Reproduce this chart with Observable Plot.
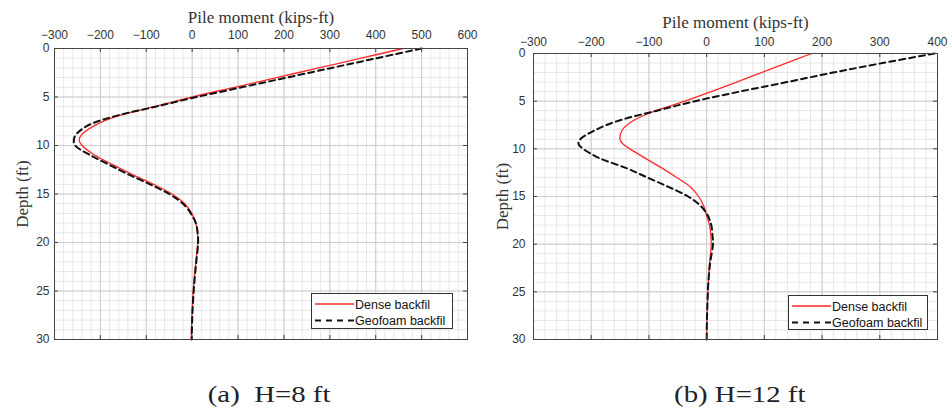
<!DOCTYPE html>
<html>
<head>
<meta charset="utf-8">
<script src="https://cdn.jsdelivr.net/npm/d3@7"></script>
<script src="https://cdn.jsdelivr.net/npm/@observablehq/plot@0.6"></script>
<style>
  html, body { margin: 0; padding: 0; background: #fff; }
  #root { position: relative; width: 952px; height: 408px; overflow: hidden; background: #fff; }
  .panel { position: absolute; top: 0; }
  .panel svg { overflow: visible; }
  .legend { position: absolute; border: 1px solid #333; background: #fff; box-sizing: border-box; }
  .legend svg { position: absolute; left: 0; top: 0; }
  .caption { position: absolute; text-align: center; font-family: "Liberation Serif", "Times New Roman", serif; font-size: 24px; line-height: 1; color: #222; }
  .caption span { display: inline-block; transform: scaleX(1.2); transform-origin: center; white-space: pre; }
</style>
</head>
<body>
<div id="root"></div>
<script>
// ---------- data ----------
const depthA    = [0, 1, 2, 3, 4, 5, 6, 7, 8, 9, 9.5, 10, 11, 12, 13, 14, 15, 16, 17, 18, 19, 20, 22, 24, 26, 28, 30];
const denseA    = [460, 368, 276, 184, 92, 0, -82, -165, -215, -243, -246, -240, -212, -172, -130, -84, -44, -16, -1, 8, 11.5, 12, 8, 4, 1, -1, -2];
const geofoamA  = [500, 402, 304, 206, 108, 10, -80, -170, -230, -255, -258, -255, -222, -180, -138, -92, -50, -20, -3, 8, 12, 13, 9, 5, 2, 0, -1];

const depthB    = [0, 1, 2, 3, 4, 5, 6, 7, 8, 9, 9.5, 10, 11, 12, 13, 14, 15, 16, 17, 18, 19, 20, 22, 24, 26, 28, 30];
const denseB    = [182, 138, 95, 52, 8, -38, -88, -126, -146, -150, -145, -133, -106, -78, -52, -28, -14, -5, 0, 5, 7, 8, 5, 3, 1.5, 0.5, 0];
const geofoamB  = [395, 305, 219, 139, 57, -20, -86, -150, -192, -219, -222, -214, -185, -140, -103, -66, -32, -10, 2, 8, 10, 11, 6, 3, 1.5, 0.5, 0];

const xTicksA = [-300, -200, -100, 0, 100, 200, 300, 400, 500, 600];
const xTicksB = [-300, -200, -100, 0, 100, 200, 300, 400];
const yTicks  = [0, 5, 10, 15, 20, 25, 30];
const xLabel = "Pile moment (kips-ft)";
const yLabel = "Depth (ft)";
const seriesNames = ["Dense backfil", "Geofoam backfil"];
const captions = ["(a)  H=8 ft", "(b) H=12 ft"];

// ---------- helpers ----------
const rows = (depth, vals) => depth.map((d, i) => ({depth: d, m: vals[i]}));
const SERIF = "'Liberation Serif', 'Times New Roman', serif";

function panel(o) {
  const innerW = o.width - o.marginLeft - o.marginRight;
  const innerH = o.height - o.marginTop - o.marginBottom;
  const minorX = d3.range(o.xTicks[0], o.xTicks[o.xTicks.length - 1] + 1, 20);
  const minorY = d3.range(0, 31, 1);
  const tickLen = 4;
  return Plot.plot({
    width: o.width, height: o.height,
    marginTop: o.marginTop, marginLeft: o.marginLeft, marginRight: o.marginRight, marginBottom: o.marginBottom,
    style: {fontFamily: "'Liberation Sans', Arial, sans-serif", fontSize: "12px", color: "#333", background: "transparent", overflow: "visible"},
    x: {domain: [o.xTicks[0], o.xTicks[o.xTicks.length - 1]]},
    y: {domain: [0, 30], reverse: true},
    marks: [
      Plot.gridX(minorX, {stroke: "#e6e6e6", strokeOpacity: 1, strokeWidth: 1}),
      Plot.gridY(minorY, {stroke: "#e6e6e6", strokeOpacity: 1, strokeWidth: 1}),
      Plot.gridX(o.xTicks, {stroke: "#cdcdcd", strokeOpacity: 1, strokeWidth: 1}),
      Plot.gridY(yTicks, {stroke: "#cdcdcd", strokeOpacity: 1, strokeWidth: 1}),
      Plot.line(rows(o.depth, o.dense), {x: "m", y: "depth", stroke: "#ff2a2a", strokeWidth: 1.3, curve: "catmull-rom"}),
      Plot.line(rows(o.depth, o.geofoam), {x: "m", y: "depth", stroke: "#111", strokeWidth: 2, strokeDasharray: "6,4", curve: "catmull-rom"}),
      Plot.frame({stroke: "#444", strokeWidth: 1}),
      Plot.tickX(o.xTicks, {x: d => d, insetBottom: innerH - tickLen, stroke: "#444"}),
      Plot.tickX(o.xTicks, {x: d => d, insetTop: innerH - tickLen, stroke: "#444"}),
      Plot.tickY(yTicks, {y: d => d, insetRight: innerW - tickLen, stroke: "#444"}),
      Plot.tickY(yTicks, {y: d => d, insetLeft: innerW - tickLen, stroke: "#444"}),
      Plot.axisX({anchor: "top", ticks: o.xTicks, tickSize: 0, tickPadding: o.xPad, label: null, fontSize: 12}),
      Plot.axisY({anchor: "left", ticks: yTicks, tickSize: 0, tickPadding: o.yPad, label: null, fontSize: 12}),
      Plot.text([xLabel], {text: d => d, frameAnchor: "top", lineAnchor: "middle", dy: -o.titleOff, fontFamily: SERIF, fontSize: 17, fill: "#333"}),
      Plot.text([yLabel], {text: d => d, frameAnchor: "left", lineAnchor: "middle", textAnchor: "middle", dx: -o.ylabOff, rotate: -90, fontFamily: SERIF, fontSize: 17, fill: "#333"})
    ]
  });
}

function legend(left, top, w, h) {
  const div = document.createElement("div");
  div.className = "legend";
  Object.assign(div.style, {left: left + "px", top: top + "px", width: w + "px", height: h + "px"});
  const ns = "http://www.w3.org/2000/svg";
  const svg = document.createElementNS(ns, "svg");
  svg.setAttribute("width", w); svg.setAttribute("height", h);
  const styles = [{stroke: "#ff2a2a", sw: 1.3, dash: null}, {stroke: "#111", sw: 2, dash: "6,5"}];
  seriesNames.forEach((name, i) => {
    const y = 10 + i * 16.5;
    const ln = document.createElementNS(ns, "line");
    ln.setAttribute("x1", 3); ln.setAttribute("x2", 42); ln.setAttribute("y1", y); ln.setAttribute("y2", y);
    ln.setAttribute("stroke", styles[i].stroke); ln.setAttribute("stroke-width", styles[i].sw);
    if (styles[i].dash) ln.setAttribute("stroke-dasharray", styles[i].dash);
    svg.appendChild(ln);
    const t = document.createElementNS(ns, "text");
    t.setAttribute("x", 43); t.setAttribute("y", y + 4.5);
    t.setAttribute("font-family", "'Liberation Sans', Arial, sans-serif");
    t.setAttribute("font-size", "12.5px"); t.setAttribute("fill", "#111");
    t.textContent = name;
    svg.appendChild(t);
  });
  div.appendChild(svg);
  return div;
}

function caption(text, center, top) {
  const div = document.createElement("div");
  div.className = "caption";
  Object.assign(div.style, {left: (center - 150) + "px", width: "300px", top: top + "px"});
  const s = document.createElement("span");
  s.textContent = text;
  div.appendChild(s);
  return div;
}

// ---------- build ----------
const root = document.getElementById("root");

const pa = panel({depth: depthA, dense: denseA, geofoam: geofoamA, xTicks: xTicksA,
  width: 476, height: 350, marginTop: 48, marginLeft: 54, marginRight: 9, marginBottom: 11,
  xPad: 10, yPad: 5, titleOff: 31, ylabOff: 32});
const wa = document.createElement("div"); wa.className = "panel"; wa.style.left = "0px"; wa.appendChild(pa);
root.appendChild(wa);

const pb = panel({depth: depthB, dense: denseB, geofoam: geofoamB, xTicks: xTicksB,
  width: 476, height: 350, marginTop: 53, marginLeft: 57, marginRight: 15, marginBottom: 11,
  xPad: 8, yPad: 8, titleOff: 30.5, ylabOff: 31});
const wb = document.createElement("div"); wb.className = "panel"; wb.style.left = "476px"; wb.appendChild(pb);
root.appendChild(wb);

root.appendChild(legend(311, 293, 142, 36));
root.appendChild(legend(788, 295, 140, 35));

root.appendChild(caption(captions[0], 269, 382));
root.appendChild(caption(captions[1], 740, 382));
</script>
</body>
</html>
